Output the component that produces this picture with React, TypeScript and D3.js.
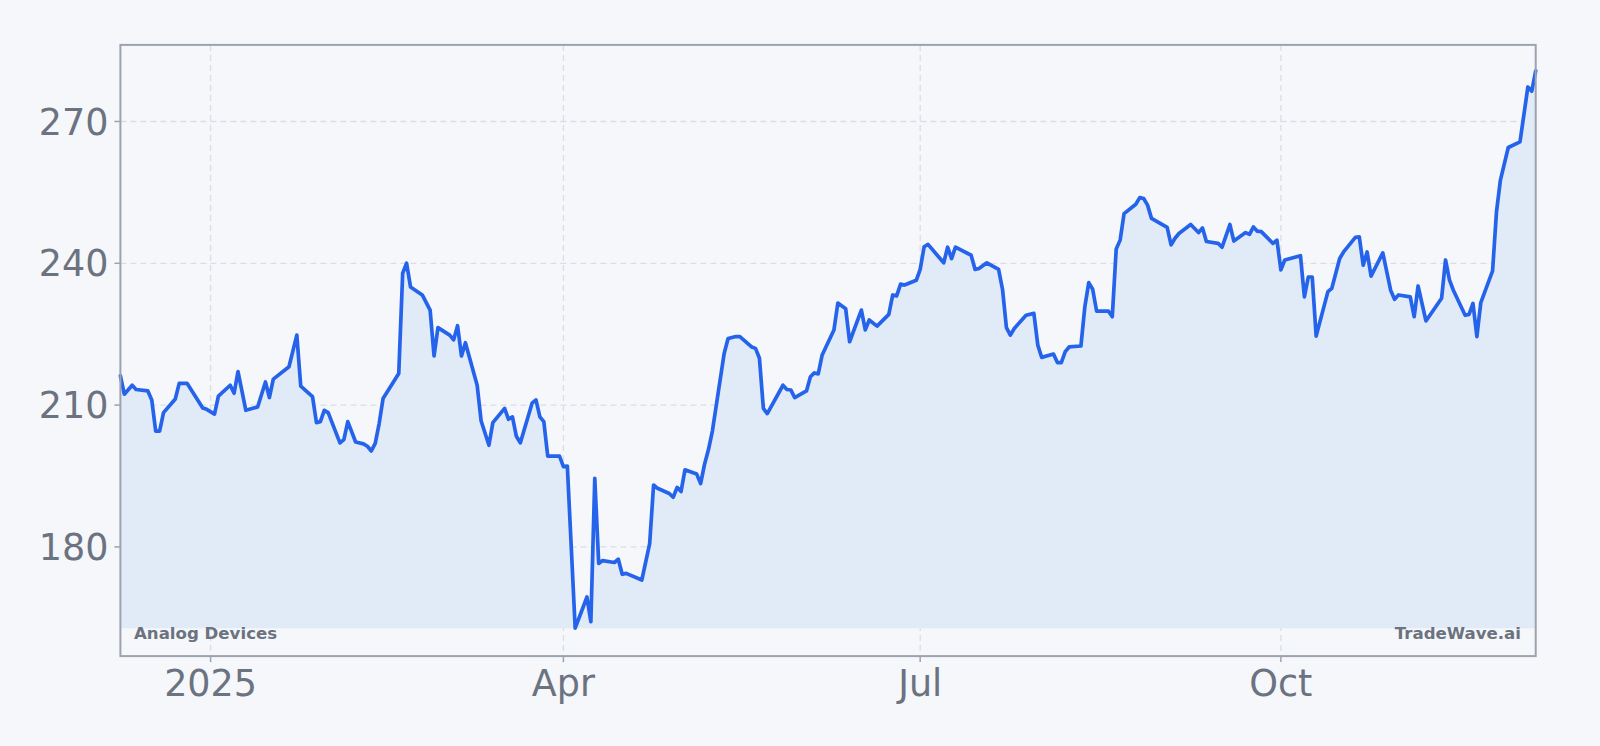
import React from "react";
import * as d3 from "d3";

const dates = [
  "2024-12-09","2024-12-10","2024-12-12","2024-12-13","2024-12-16","2024-12-17","2024-12-18","2024-12-19","2024-12-20","2024-12-23","2024-12-24","2024-12-26","2024-12-30","2024-12-31",
  "2025-01-02","2025-01-03","2025-01-06","2025-01-07","2025-01-08","2025-01-10","2025-01-13","2025-01-15","2025-01-16","2025-01-17","2025-01-21","2025-01-23","2025-01-24","2025-01-27","2025-01-28","2025-01-29","2025-01-30","2025-01-31",
  "2025-02-03","2025-02-04","2025-02-05","2025-02-07","2025-02-09","2025-02-10","2025-02-11","2025-02-12","2025-02-13","2025-02-14","2025-02-18","2025-02-19","2025-02-20","2025-02-21","2025-02-24","2025-02-26","2025-02-27","2025-02-28",
  "2025-03-03","2025-03-04","2025-03-05","2025-03-06","2025-03-07","2025-03-10","2025-03-11","2025-03-13","2025-03-14","2025-03-17","2025-03-18","2025-03-19","2025-03-20","2025-03-21","2025-03-24","2025-03-25","2025-03-26","2025-03-27","2025-03-28","2025-03-31",
  "2025-04-01","2025-04-02","2025-04-04","2025-04-07","2025-04-08","2025-04-09","2025-04-10","2025-04-11","2025-04-14","2025-04-15","2025-04-16","2025-04-17","2025-04-21","2025-04-23","2025-04-24","2025-04-25","2025-04-28","2025-04-29","2025-04-30",
  "2025-05-01","2025-05-02","2025-05-05","2025-05-06","2025-05-07","2025-05-08","2025-05-09","2025-05-12","2025-05-13","2025-05-15","2025-05-16","2025-05-19","2025-05-20","2025-05-21","2025-05-22","2025-05-23","2025-05-27","2025-05-28","2025-05-29","2025-05-30",
  "2025-06-02","2025-06-03","2025-06-04","2025-06-05","2025-06-06","2025-06-09","2025-06-10","2025-06-12","2025-06-13","2025-06-16","2025-06-17","2025-06-18","2025-06-20","2025-06-23","2025-06-24","2025-06-25","2025-06-26","2025-06-27","2025-06-30",
  "2025-07-01","2025-07-02","2025-07-03","2025-07-07","2025-07-08","2025-07-09","2025-07-10","2025-07-14","2025-07-15","2025-07-16","2025-07-18","2025-07-21","2025-07-22","2025-07-23","2025-07-24","2025-07-25","2025-07-28","2025-07-30","2025-07-31",
  "2025-08-01","2025-08-04","2025-08-05","2025-08-06","2025-08-07","2025-08-08","2025-08-11","2025-08-12","2025-08-13","2025-08-14","2025-08-15","2025-08-18","2025-08-19","2025-08-20","2025-08-21","2025-08-22","2025-08-25","2025-08-26","2025-08-27","2025-08-28","2025-08-29",
  "2025-09-02","2025-09-03","2025-09-04","2025-09-05","2025-09-08","2025-09-10","2025-09-11","2025-09-12","2025-09-15","2025-09-16","2025-09-18","2025-09-19","2025-09-22","2025-09-23","2025-09-24","2025-09-25","2025-09-26","2025-09-29","2025-09-30",
  "2025-10-01","2025-10-02","2025-10-06","2025-10-07","2025-10-08","2025-10-09","2025-10-10","2025-10-13","2025-10-14","2025-10-16","2025-10-17","2025-10-20","2025-10-21","2025-10-22","2025-10-23","2025-10-24","2025-10-27","2025-10-29","2025-10-30","2025-10-31",
  "2025-11-03","2025-11-04","2025-11-05","2025-11-07","2025-11-11","2025-11-12","2025-11-13","2025-11-14","2025-11-17","2025-11-18","2025-11-19","2025-11-20","2025-11-21","2025-11-24","2025-11-25","2025-11-26","2025-11-28",
  "2025-12-01","2025-12-03","2025-12-04","2025-12-05",
];

const closes = [
  216.2, 212.3, 214.2, 213.3, 213.0, 211.1, 204.5, 204.5, 208.4, 211.3, 214.6, 214.6, 209.4, 209.1,
  208.1, 211.9, 214.2, 212.5, 217.1, 208.9, 209.6, 214.9, 211.6, 215.5, 218.1, 224.8, 214.0, 211.8, 206.3, 206.5, 208.9, 208.4,
  202.0, 202.7, 206.5, 202.2, 201.8, 201.3, 200.3, 201.9, 206.1, 211.4, 216.7, 237.9, 240.0, 235.0, 233.3, 230.1, 220.4, 226.4,
  224.8, 223.8, 226.8, 220.4, 223.2, 214.2, 206.7, 201.5, 206.3, 209.3, 207.0, 207.5, 203.4, 202.0, 210.4, 211.1, 207.5, 206.5, 199.2, 199.2,
  197.0, 197.1, 162.8, 169.4, 164.2, 194.5, 176.5, 177.1, 176.7, 177.4, 174.2, 174.4, 173.0, 180.7, 193.1, 192.4, 191.3, 190.5, 192.6,
  191.7, 196.3, 195.4, 193.4, 197.5, 200.6, 204.5, 220.9, 224.1, 224.5, 224.5, 222.3, 222.0, 219.9, 209.3, 208.2, 214.2, 213.3, 213.2, 211.6,
  213.0, 216.0, 216.8, 216.6, 220.6, 225.9, 231.6, 230.4, 223.4, 230.1, 225.9, 228.0, 226.7, 229.2, 233.3, 233.1, 235.6, 235.4, 236.4,
  238.7, 243.5, 244.0, 240.1, 243.4, 241.0, 243.4, 241.7, 238.7, 238.9, 240.1, 238.7, 234.5, 226.4, 224.8, 226.2, 229.0, 229.4, 222.7,
  220.1, 220.8, 219.0, 219.0, 221.3, 222.3, 222.5, 230.8, 235.9, 234.5, 229.9, 229.9, 228.7, 243.0, 244.9, 250.5, 252.5, 253.9, 253.7, 252.3, 249.5,
  247.6, 243.9, 245.3, 246.3, 248.2, 246.5, 247.5, 244.6, 244.2, 243.4, 248.2, 244.7, 246.5, 246.1, 247.7, 246.8, 246.7, 244.2, 244.9,
  238.6, 240.7, 241.6, 232.9, 237.1, 237.1, 224.6, 234.0, 234.7, 241.0, 242.4, 245.5, 245.6, 239.6, 242.4, 237.3, 242.2, 234.3, 232.4, 233.3,
  232.9, 228.7, 235.2, 227.8, 232.6, 240.7, 236.5, 234.3, 229.0, 229.2, 231.5, 224.5, 231.7, 238.4, 250.9, 257.6, 264.5,
  265.7, 277.3, 276.4, 280.7,
];

const yTicks = [180, 210, 240, 270];
const yDomain = [156.9, 286.2];
const xTickDates = ["2025-01-01", "2025-04-01", "2025-07-01", "2025-10-01"];
const xTickLabels = ["2025", "Apr", "Jul", "Oct"];
const companyName = "Analog Devices";
const brandName = "TradeWave.ai";

export default function App() {
  const W = 1600;
  const H = 746;
  const left = 120.4;
  const right = 1535.7;
  const top = 44.9;
  const bottom = 656.1;

  const parse = d3.utcParse("%Y-%m-%d");
  const data = dates.map((d, i) => ({ date: parse(d) as Date, v: closes[i] }));

  const x = d3
    .scaleUtc()
    .domain(d3.extent(data, (d) => d.date) as [Date, Date])
    .range([left, right]);
  const y = d3.scaleLinear().domain(yDomain).range([bottom, top]);
  const minV = d3.min(closes) as number;

  const line = d3
    .line<{ date: Date; v: number }>()
    .x((d) => x(d.date))
    .y((d) => y(d.v));
  const area = d3
    .area<{ date: Date; v: number }>()
    .x((d) => x(d.date))
    .y0(y(minV))
    .y1((d) => y(d.v));

  const font = "'DejaVu Sans', sans-serif";
  const textColor = "#6b7280";
  const gridColor = "#d9dee5";
  const frameColor = "#9ca3af";

  return (
    <svg
      width={W}
      height={H}
      style={{ position: "absolute", left: 0, top: 0, display: "block", background: "#f5f7fa" }}
    >
      <rect x={0} y={0} width={W} height={H} fill="#f5f7fa" />
      {yTicks.map((t) => (
        <line
          key={"gy" + t}
          x1={left}
          x2={right}
          y1={y(t)}
          y2={y(t)}
          stroke={gridColor}
          strokeWidth={1.3}
          strokeDasharray="6,4"
        />
      ))}
      {xTickDates.map((t) => {
        const xx = x(parse(t) as Date);
        return (
          <line
            key={"gx" + t}
            x1={xx}
            x2={xx}
            y1={top}
            y2={bottom}
            stroke={gridColor}
            strokeWidth={1.3}
            strokeDasharray="6,4"
          />
        );
      })}
      <path d={area(data) as string} fill="#e1ebf7" />
      <path
        d={line(data) as string}
        fill="none"
        stroke="#2563eb"
        strokeWidth={3.7}
        strokeLinejoin="round"
        strokeLinecap="round"
      />
      <rect
        x={left}
        y={top}
        width={right - left}
        height={bottom - top}
        fill="none"
        stroke={frameColor}
        strokeWidth={2}
      />
      {yTicks.map((t) => (
        <g key={"ty" + t}>
          <line x1={left - 6} x2={left} y1={y(t)} y2={y(t)} stroke={frameColor} strokeWidth={1.5} />
          <text
            x={left - 12}
            y={y(t)}
            dy="0.36em"
            textAnchor="end"
            fontFamily={font}
            fontSize={36.5}
            fill={textColor}
          >
            {t}
          </text>
        </g>
      ))}
      {xTickDates.map((t, i) => {
        const xx = x(parse(t) as Date);
        return (
          <g key={"tx" + t}>
            <line x1={xx} x2={xx} y1={bottom} y2={bottom + 6} stroke={frameColor} strokeWidth={1.5} />
            <text
              x={xx}
              y={696}
              textAnchor="middle"
              fontFamily={font}
              fontSize={36.5}
              fill={textColor}
            >
              {xTickLabels[i]}
            </text>
          </g>
        );
      })}
      <text x={134} y={639} fontFamily={font} fontSize={16.6} fontWeight="bold" fill={textColor}>
        {companyName}
      </text>
      <text
        x={1521}
        y={639}
        textAnchor="end"
        fontFamily={font}
        fontSize={16.6}
        fontWeight="bold"
        fill={textColor}
      >
        {brandName}
      </text>
    </svg>
  );
}
